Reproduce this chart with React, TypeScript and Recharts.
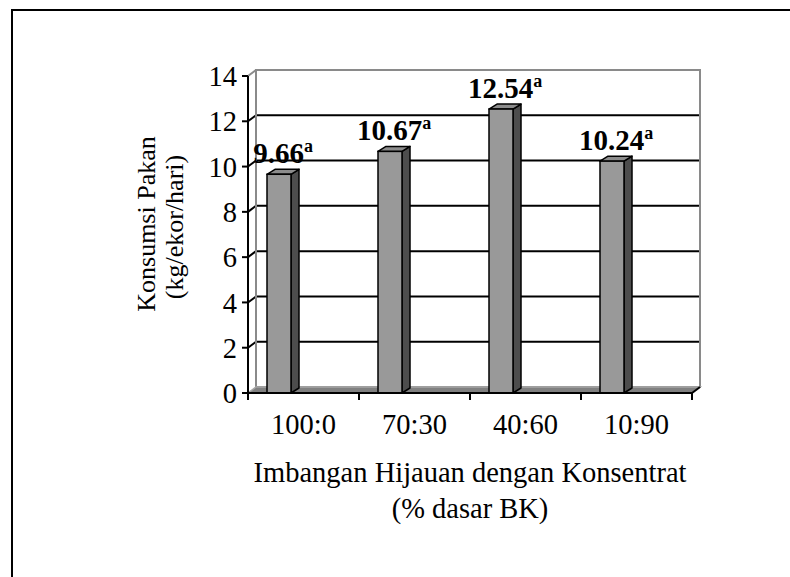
import {
  Bar,
  BarChart,
  CartesianGrid,
  LabelList,
  ReferenceArea,
  XAxis,
  YAxis,
} from "recharts";

// data
const categories = ["100:0", "70:30", "40:60", "10:90"];
const konsumsi = [9.66, 10.67, 12.54, 10.24];
const notasi = ["a", "a", "a", "a"];
const yTicks = [0, 2, 4, 6, 8, 10, 12, 14];

const data = categories.map((name, i) => ({ name, value: konsumsi[i] }));

// layout
const W = 790;
const H = 577;
const Y_AXIS_W = 60;
const X_AXIS_H = 130;
const M = { top: 76, right: 98, bottom: 54, left: 188 };
const PLOT_L = M.left + Y_AXIS_W;
const PLOT_R = W - M.right;
const PLOT_T = M.top;
const PLOT_B = H - M.bottom - X_AXIS_H;
const BAND = (PLOT_R - PLOT_L) / categories.length;

// fake 3-D depth (Excel style)
const DX = 8;
const DY = 6;
const BAR_DX = 8;
const BAR_DY = 5;
const BAR_SHIFT = -25;

const FONT = '"Liberation Serif", "Times New Roman", serif';
const TEXT_SIZE = 28.5;

function BarShape(props: any) {
  const { x, y, width, height } = props;
  const fx = Number(x) + BAR_SHIFT;
  const fy = Number(y);
  const w = Number(width);
  const h = Number(height);
  return (
    <g>
      <polygon
        points={`${fx + w},${fy} ${fx + w + BAR_DX},${fy - BAR_DY} ${fx + w + BAR_DX},${fy + h - BAR_DY} ${fx + w},${fy + h}`}
        fill="#4d4d4d"
        stroke="#000"
        strokeWidth={1.5}
        strokeLinejoin="round"
      />
      <polygon
        points={`${fx},${fy} ${fx + BAR_DX},${fy - BAR_DY} ${fx + w + BAR_DX},${fy - BAR_DY} ${fx + w},${fy}`}
        fill="#8c8c8c"
        stroke="#000"
        strokeWidth={1.5}
        strokeLinejoin="round"
      />
      <rect x={fx} y={fy} width={w} height={h} fill="#999999" stroke="#000" strokeWidth={1.5} />
    </g>
  );
}

function WallShape(props: any) {
  const { x, y, width, height } = props;
  const l = Number(x);
  const t = Number(y);
  const w = Number(width);
  const b = t + Number(height);
  return (
    <g>
      <rect x={l + DX} y={t - DY} width={w} height={b - t} fill="none" stroke="#8a8a8a" strokeWidth={2} />
      <line x1={l} y1={t} x2={l + DX} y2={t - DY} stroke="#8a8a8a" strokeWidth={2} />
      <polygon
        points={`${l},${b} ${l + w},${b} ${l + w + DX},${b - DY} ${l + DX},${b - DY}`}
        fill="#808080"
        stroke="#a6a6a6"
        strokeWidth={1.5}
      />
      <line x1={l + w} y1={b} x2={l + w + DX} y2={b - DY} stroke="#000" strokeWidth={2} />
    </g>
  );
}

function gridLine(props: any) {
  const { x1, x2, y1, index } = props;
  const yy = Number(y1);
  if (Math.abs(yy - PLOT_B) < 1 || Math.abs(yy - PLOT_T) < 1) return <g key={`h-${index}`} />;
  return (
    <g key={`h-${index}`}>
      <line x1={Number(x1)} y1={yy} x2={Number(x1) + DX} y2={yy - DY} stroke="#000" strokeWidth={2} />
      <line x1={Number(x1) + DX} y1={yy - DY} x2={Number(x2) + DX} y2={yy - DY} stroke="#000" strokeWidth={2} />
    </g>
  );
}

function CategoryTick(props: any) {
  const { x, index, payload } = props;
  const cx = Number(x);
  const last = index === categories.length - 1;
  return (
    <g>
      <line x1={cx - BAND / 2} y1={PLOT_B} x2={cx - BAND / 2} y2={PLOT_B + 7} stroke="#000" strokeWidth={2} />
      {last && (
        <line x1={cx + BAND / 2} y1={PLOT_B} x2={cx + BAND / 2} y2={PLOT_B + 7} stroke="#000" strokeWidth={2} />
      )}
      <text x={cx} y={PLOT_B + 41} textAnchor="middle" fontFamily={FONT} fontSize={TEXT_SIZE} fill="#000">
        {payload.value}
      </text>
    </g>
  );
}

function XTitle() {
  const cx = (PLOT_L + PLOT_R) / 2;
  return (
    <g fontFamily={FONT} fontSize={TEXT_SIZE} fill="#000">
      <text x={cx} y={482} textAnchor="middle">
        Imbangan Hijauan dengan Konsentrat
      </text>
      <text x={cx} y={518} textAnchor="middle">
        (% dasar BK)
      </text>
    </g>
  );
}

function YTitle() {
  const cy = 224;
  return (
    <g fontFamily={FONT} fontSize={26} fill="#000">
      <text x={155} y={cy} textAnchor="middle" transform={`rotate(-90 155 ${cy})`}>
        Konsumsi Pakan
      </text>
      <text x={183} y={cy + 3} textAnchor="middle" transform={`rotate(-90 183 ${cy + 3})`}>
        (kg/ekor/hari)
      </text>
    </g>
  );
}

function ValueLabel(props: any) {
  const { x, y, width, value, index } = props;
  const cx = Number(x) + Number(width) / 2 + BAR_SHIFT + 4;
  return (
    <text
      x={cx}
      y={Number(y) - 11}
      textAnchor="middle"
      fontFamily={FONT}
      fontWeight="bold"
      fontSize={29}
      fill="#000"
    >
      {Number(value).toFixed(2)}
      <tspan fontSize={18} dy={-11}>
        {notasi[index]}
      </tspan>
    </text>
  );
}

export default function App() {
  return (
    <div style={{ position: "fixed", left: 0, top: 0, width: W, height: H, background: "#fff", overflow: "hidden" }}>
      <div
        style={{
          position: "absolute",
          left: 11,
          top: 9,
          width: 900,
          height: 700,
          borderLeft: "2px solid #000",
          borderTop: "2px solid #000",
        }}
      />
      <div style={{ position: "absolute", left: 0, top: 0 }}>
        <BarChart width={W} height={H} data={data} margin={M}>
          <CartesianGrid vertical={false} horizontal={gridLine} />
          <ReferenceArea y1={0} y2={14} shape={WallShape} />
          <XAxis
            dataKey="name"
            height={X_AXIS_H}
            interval={0}
            axisLine={{ stroke: "#000", strokeWidth: 2 }}
            tickLine={false}
            tick={(p: any) => <CategoryTick {...p} />}
            label={<XTitle />}
          />
          <YAxis
            width={Y_AXIS_W}
            domain={[0, 14]}
            ticks={yTicks}
            interval={0}
            tickSize={6}
            tickMargin={5}
            axisLine={{ stroke: "#000", strokeWidth: 2 }}
            tickLine={{ stroke: "#000", strokeWidth: 2 }}
            tick={{ fill: "#000", fontSize: TEXT_SIZE, fontFamily: FONT }}
            label={<YTitle />}
          />
          <Bar dataKey="value" barSize={24} shape={BarShape} isAnimationActive={false}>
            <LabelList dataKey="value" content={ValueLabel} />
          </Bar>
        </BarChart>
      </div>
    </div>
  );
}
